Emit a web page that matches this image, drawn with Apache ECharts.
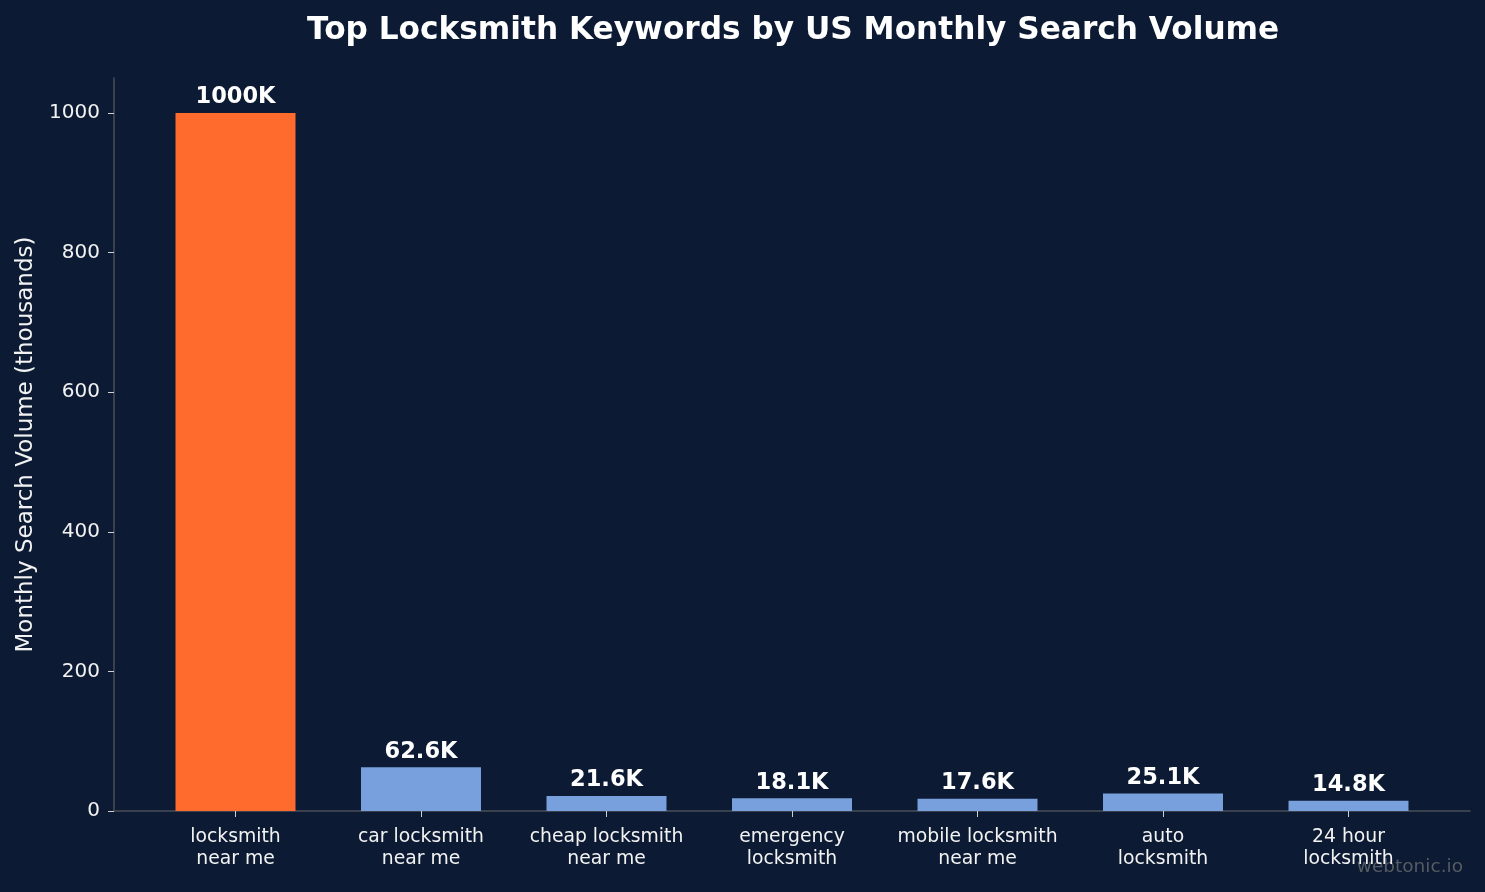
<!DOCTYPE html>
<html lang="en">
<head>
    <meta charset="UTF-8">
    <title>Locksmith keywords</title>
    <script src="https://cdn.jsdelivr.net/npm/echarts@6/dist/echarts.min.js"></script>
    <style>
        html, body { margin: 0; padding: 0; background: #0c1b33; }
    </style>
</head>
<body>
    <div id="ec" style="width:1485px;height:892px"></div>
</body>
<script>
    // search volume per keyword, in thousands
    var keywords = [
        'locksmith\nnear me',
        'car locksmith\nnear me',
        'cheap locksmith\nnear me',
        'emergency\nlocksmith',
        'mobile locksmith\nnear me',
        'auto\nlocksmith',
        '24 hour\nlocksmith'
    ]
    var volumes = [1000, 62.6, 21.6, 18.1, 17.6, 25.1, 14.8]
    var yTicks = [0, 200, 400, 600, 800, 1000]

    var barData = volumes.map(function(v, i) {
        return {
            value: [i, v],
            itemStyle: { color: i === 0 ? '#ff6b2c' : '#77a0dc' }
        }
    })
    var xTicks = keywords.map(function(k, i) { return i })

    var mychart = echarts.init(document.getElementById('ec'))
    var options = {
        backgroundColor: '#0c1b33',
        textStyle: { fontFamily: 'DejaVu Sans' },
        title: {
            text: 'Top Locksmith Keywords by US Monthly Search Volume',
            left: 302,
            top: 10,
            textStyle: { color: '#ffffff', fontSize: 31.2, fontWeight: 'bold', fontFamily: 'DejaVu Sans' }
        },
        grid: { left: 114, right: 15, top: 78, bottom: 81, outerBoundsMode: 'none' },
        xAxis: {
            type: 'value',
            min: -0.655,
            max: 6.655,
            splitLine: { show: false },
            axisLine: { show: true, onZero: false, lineStyle: { color: '#4a4f58', width: 1.5 } },
            axisTick: { show: true, customValues: xTicks, length: 6, lineStyle: { color: '#d0d0d0' } },
            axisLabel: {
                customValues: xTicks,
                color: '#f2f2f2',
                fontSize: 18.8,
                lineHeight: 22,
                margin: 15,
                formatter: function(v) { return keywords[Math.round(v)] }
            }
        },
        yAxis: {
            type: 'value',
            min: 0,
            max: 1050,
            name: 'Monthly Search Volume (thousands)',
            nameLocation: 'middle',
            nameGap: 76,
            nameTextStyle: { color: '#f2f2f2', fontSize: 23 },
            splitLine: { show: false },
            axisLine: { show: true, onZero: false, lineStyle: { color: '#4a4f58', width: 1.5 } },
            axisTick: { show: true, customValues: yTicks, length: 6, lineStyle: { color: '#d0d0d0' } },
            axisLabel: {
                customValues: yTicks,
                color: '#f2f2f2',
                fontSize: 20,
                margin: 14,
                formatter: function(v) { return String(v) }
            }
        },
        series: [{
            type: 'bar',
            barWidth: 120,
            data: barData,
            label: {
                show: true,
                position: 'top',
                distance: 4,
                color: '#ffffff',
                fontSize: 22.5,
                fontWeight: 'bold',
                formatter: function(p) { return p.value[1] + 'K' }
            }
        }],
        graphic: [{
            type: 'text',
            right: 22,
            bottom: 15,
            style: { text: 'webtonic.io', fill: '#555a63', fontSize: 18.5, fontFamily: 'DejaVu Sans' }
        }]
    }
    mychart.setOption(options)
</script>
</html>
